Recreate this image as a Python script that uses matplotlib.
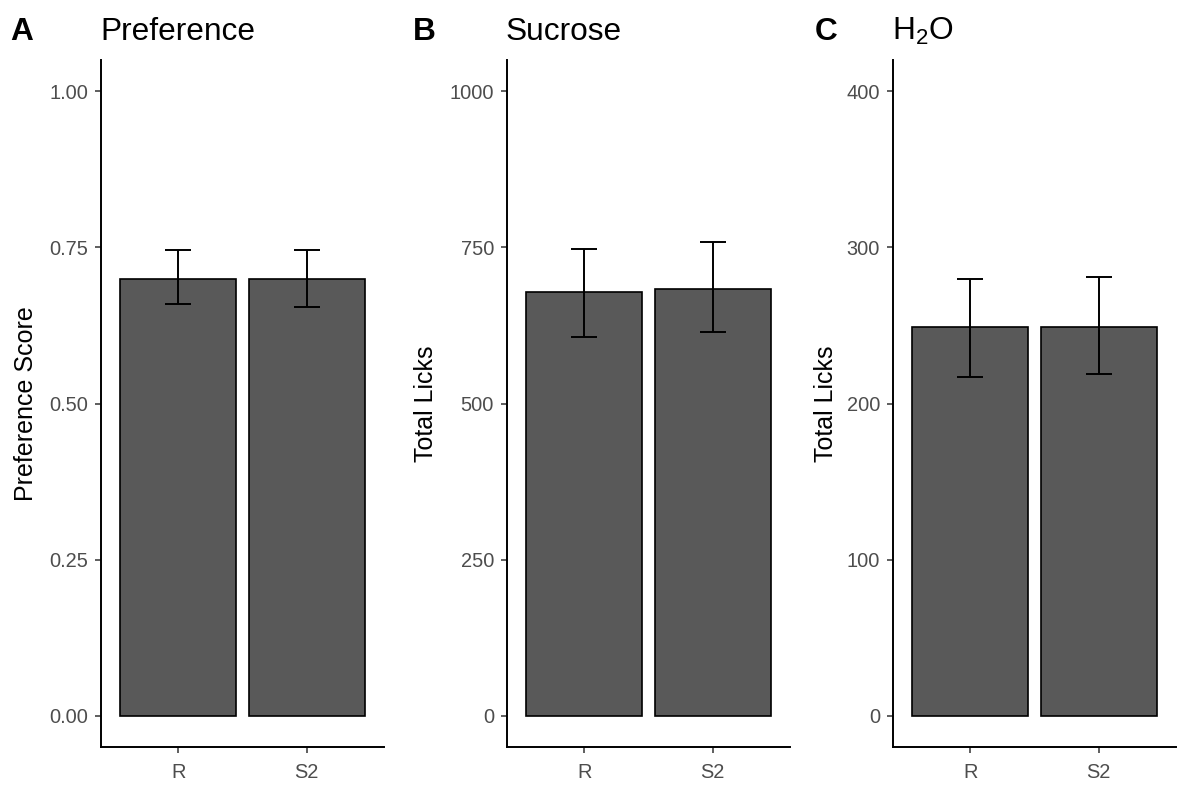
import matplotlib
matplotlib.use("Agg")
import matplotlib.pyplot as plt

plt.rcParams['font.family'] = ['Liberation Sans', 'DejaVu Sans']
plt.rcParams['mathtext.default'] = 'regular'

groups = ["R", "S2"]

pref_mean = [0.700, 0.700]
pref_low = [0.659, 0.655]
pref_high = [0.745, 0.745]

suc_mean = [679, 684]
suc_low = [607, 614]
suc_high = [748, 758]

h2o_mean = [249, 249]
h2o_low = [217, 219]
h2o_high = [280, 281]

titles = ["Preference", "Sucrose", r"H$_2$O"]
letters = ["A", "B", "C"]
ylabels = ["Preference Score", "Total Licks", "Total Licks"]
yticks = [[0.0, 0.25, 0.5, 0.75, 1.0], [0, 250, 500, 750, 1000], [0, 100, 200, 300, 400]]
yticklabels = [["0.00", "0.25", "0.50", "0.75", "1.00"],
               ["0", "250", "500", "750", "1000"],
               ["0", "100", "200", "300", "400"]]
ylims = [(-0.05, 1.05), (-50, 1050), (-20, 420)]

means = [pref_mean, suc_mean, h2o_mean]
lows = [pref_low, suc_low, h2o_low]
highs = [pref_high, suc_high, h2o_high]

W, H = 1180, 786
fig = plt.figure(figsize=(W / 100, H / 100), dpi=100)

lefts = [101, 507, 893]
ax_w = 283
ax_top, ax_bot = 60, 747
ylab_x = [-0.223, -0.244, -0.194]
letter_x = [10, 413, 815]
tick_grey = "#4D4D4D"

for i in range(3):
    ax = fig.add_axes([lefts[i] / W, 1 - ax_bot / H, ax_w / W, (ax_bot - ax_top) / H])
    x = list(range(len(groups)))
    ax.bar(x, means[i], width=0.9, color="#595959", edgecolor="black", linewidth=1.2, zorder=2)
    ax.vlines(x, lows[i], highs[i], color="black", linewidth=1.4, zorder=3)
    for xi, lo, hi in zip(x, lows[i], highs[i]):
        ax.hlines([lo, hi], xi - 0.1, xi + 0.1, color="black", linewidth=1.4, zorder=3)
    ax.set_xlim(-0.6, 1.6)
    ax.set_ylim(*ylims[i])
    ax.set_xticks(x)
    ax.set_xticklabels(groups)
    ax.set_yticks(yticks[i])
    ax.set_yticklabels(yticklabels[i])
    for s in ["top", "right"]:
        ax.spines[s].set_visible(False)
    for s in ["left", "bottom"]:
        ax.spines[s].set_linewidth(1.4)
        ax.spines[s].set_color("black")
    ax.tick_params(axis="both", length=4.3, width=1.1, color="#333333",
                   labelcolor=tick_grey, labelsize=14.4)
    ax.tick_params(axis="y", pad=5)
    ax.tick_params(axis="x", pad=7.5)
    ax.set_ylabel(ylabels[i], fontsize=18, color="black")
    ax.yaxis.set_label_coords(ylab_x[i], 0.5)
    fig.text((lefts[i] - 1) / W, 1 - 40 / H, titles[i], fontsize=22.8, color="black",
             ha="left", va="baseline")
    fig.text(letter_x[i] / W, 1 - 40 / H, letters[i], fontsize=22.8, fontweight="bold",
             color="black", ha="left", va="baseline")

fig.savefig("out.png", dpi=100, facecolor="white")
